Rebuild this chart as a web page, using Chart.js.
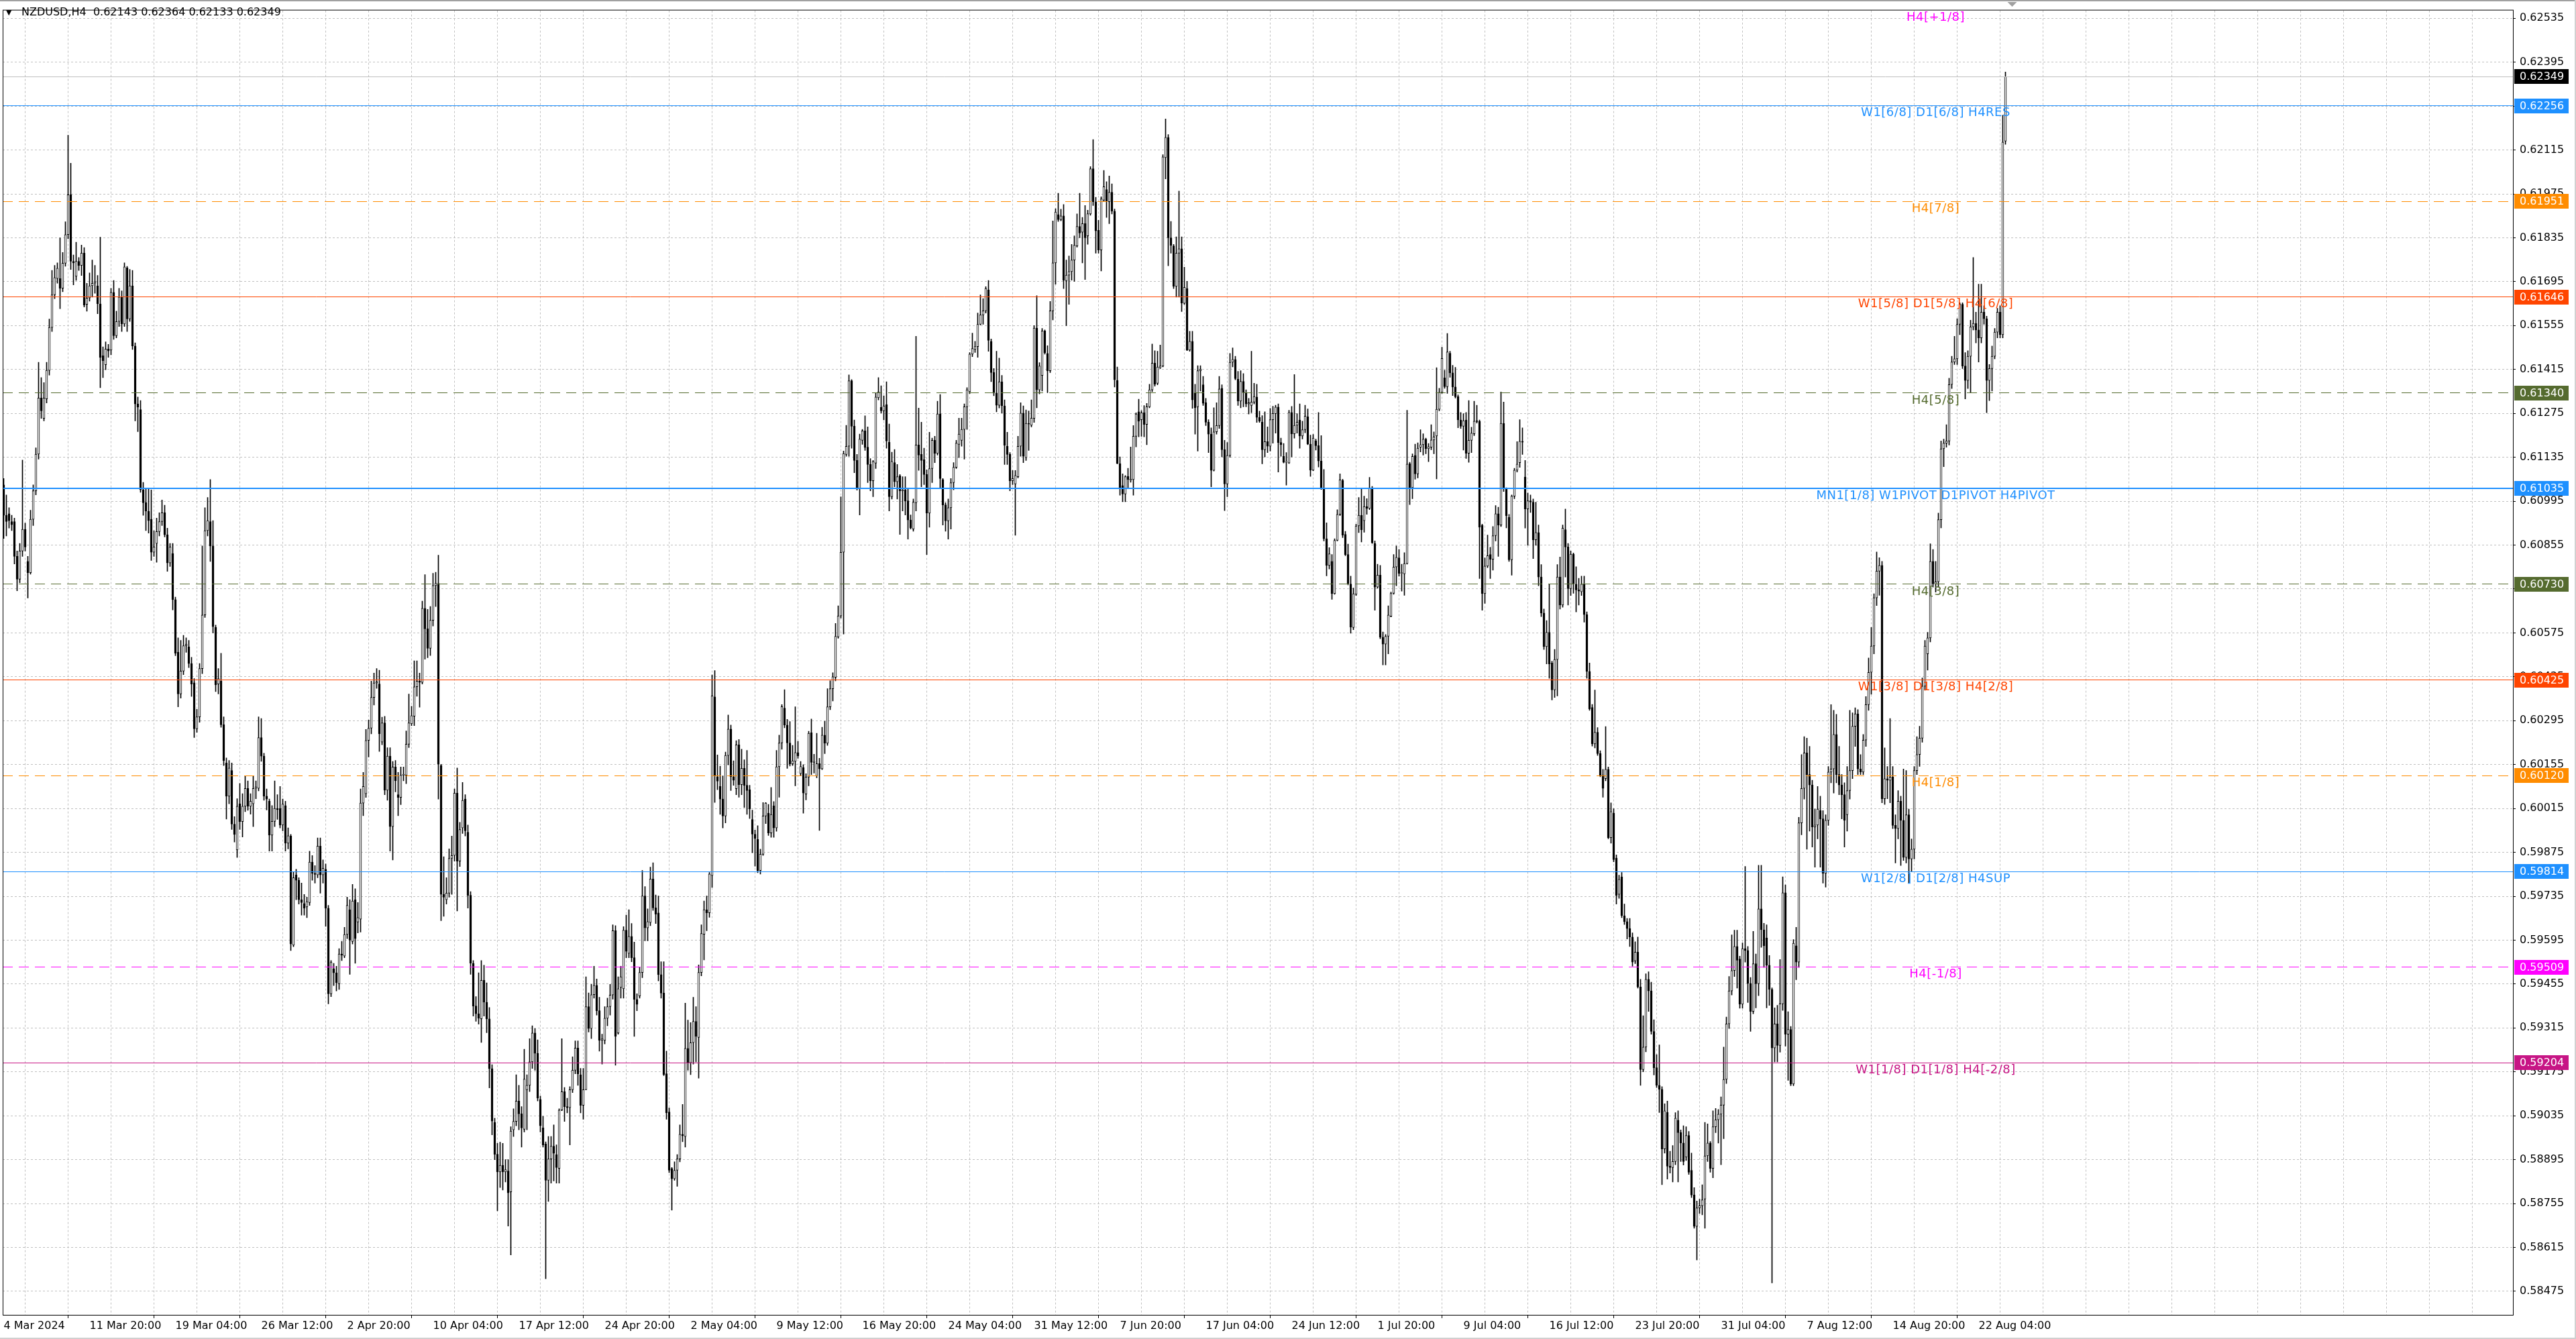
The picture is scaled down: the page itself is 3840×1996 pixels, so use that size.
<!DOCTYPE html>
<html>
<head>
<meta charset="utf-8">
<title>NZDUSD,H4</title>
<script src="https://cdn.jsdelivr.net/npm/chart.js@4.4.1/dist/chart.umd.min.js"></script>
<style>
    html, body { margin: 0; padding: 0; background: #fff; overflow: hidden; }
    #wrap { width: 3840px; height: 1996px; }
</style>
</head>
<body>
<div id="wrap"><canvas id="grafico" width="3840" height="1996"></canvas></div>
<script>
// Dados do gráfico (velas H4, da esquerda para a direita)
const symbol = 'NZDUSD';
const period = 'H4';

const opens = [
.61047,.60950,.60955,.60930,.60930,.60819,.60746,.60836,.60905,.60803,
.60767,.60937,.61028,.61145,.61324,.61259,.61321,.61412,.61549,.61653,
.61705,.61705,.61674,.61754,.61845,.61972,.61760,.61712,.61760,.61747,
.61786,.61623,.61643,.61682,.61690,.61682,.61624,.61459,.61430,.61480,
.61477,.61661,.61523,.61568,.61646,.61560,.61739,.61576,.61682,.61490,
.61305,.61287,.61031,.60990,.60963,.60937,.60832,.60860,.60898,.60930,
.60958,.60888,.60798,.60828,.60681,.60513,.60380,.60453,.60534,.60530,
.60477,.60416,.60269,.60307,.60461,.60632,.60901,.60930,.60852,.60592,
.60412,.60421,.60282,.60160,.60054,.60136,.59965,.59883,.60030,.59973,
.60022,.60079,.60022,.60030,.60079,.60079,.60241,.60182,.60054,.60038,
.59930,.59974,.60015,.60015,.59962,.60024,.59904,.59927,.59579,.59803,
.59786,.59724,.59712,.59701,.59715,.59844,.59808,.59803,.59895,.59803,
.59821,.59697,.59424,.59503,.59491,.59456,.59551,.59544,.59613,.59692,
.59591,.59724,.59653,.59662,.60032,.60062,.60232,.60271,.60369,.60415,
.60412,.60227,.60288,.60073,.60182,.59957,.60147,.60059,.60050,.60121,
.60121,.60220,.60285,.60309,.60403,.60421,.60417,.60653,.60588,.60526,
.60615,.60726,.60733,.60152,.59741,.59724,.59745,.59856,.59865,.60064,
.59847,.59953,.60045,.59939,.59738,.59521,.59385,.59360,.59344,.59467,
.59397,.59344,.59185,.59014,.58912,.58856,.58877,.58856,.58859,.58792,
.58990,.59017,.59082,.59041,.58992,.59118,.59132,.59207,.59299,.59234,
.59087,.58996,.58945,.58829,.58897,.58938,.58911,.58867,.59053,.59112,
.59064,.59061,.59118,.59180,.59251,.59166,.59068,.59118,.59383,.59313,
.59421,.59451,.59370,.59275,.59275,.59346,.59383,.59420,.59625,.59299,
.59444,.59440,.59627,.59553,.59607,.59539,.59406,.59417,.59492,.59736,
.59634,.59651,.59790,.59698,.59682,.59485,.59426,.59169,.59047,.58867,
.58834,.58861,.58897,.58976,.58969,.59250,.59204,.59268,.59336,.59285,
.59492,.59614,.59692,.59682,.59801,.60371,.60116,.60085,.60045,.59991,
.60184,.60268,.60116,.60078,.60218,.60091,.60143,.60089,.60075,.59980,
.59933,.59916,.59817,.59869,.59991,.60000,.59937,.60023,.59953,.60148,
.60224,.60335,.60281,.60224,.60157,.60165,.60193,.60126,.60145,.60061,
.60115,.60257,.60162,.60119,.60158,.60141,.60249,.60223,.60339,.60397,
.60433,.60562,.60629,.60832,.61144,.61170,.61379,.61234,.61125,.61035,
.61189,.61219,.61167,.61112,.61060,.61116,.61325,.61294,.61283,.61303,
.61183,.61009,.61118,.61057,.61076,.61028,.61031,.60996,.60935,.60906,
.60990,.61174,.61144,.61127,.61080,.60957,.61099,.61189,.61147,.61273,
.61064,.60983,.60932,.60974,.61054,.61103,.61176,.61189,.61224,.61296,
.61344,.61464,.61479,.61488,.61559,.61589,.61602,.61669,.61505,.61405,
.61340,.61301,.61376,.61299,.61170,.61144,.61060,.61050,.61073,.61170,
.61276,.61134,.61243,.61237,.61259,.61547,.61350,.61396,.61538,.61466,
.61411,.61602,.61755,.61909,.61893,.61905,.61698,.61716,.61727,.61764,
.61809,.61871,.61853,.61880,.61841,.61911,.62055,.61950,.61859,.61796,
.61955,.61989,.61950,.61980,.61920,.61380,.61115,.61045,.61018,.61074,
.61062,.61064,.61202,.61280,.61255,.61277,.61240,.61296,.61350,.61435,
.61371,.61420,.61426,.62091,.62155,.61835,.61809,.61680,.61786,.61800,
.61626,.61673,.61477,.61505,.61341,.61296,.61411,.61366,.61309,.61247,
.61209,.61093,.61216,.61236,.61355,.61159,.61050,.61141,.61438,.61447,
.61384,.61314,.61377,.61341,.61305,.61300,.61311,.61327,.61262,.61247,
.61159,.61185,.61170,.61255,.61274,.61295,.61182,.61138,.61119,.61117,
.61278,.61210,.61237,.61254,.61203,.61223,.61264,.61177,.61094,.61187,
.61172,.61123,.61035,.60875,.60790,.60803,.60700,.60870,.60953,.61061,
.60889,.60825,.60731,.60592,.60698,.60916,.60950,.60933,.60978,.60972,
.61038,.60860,.60721,.60759,.60561,.60539,.60564,.60628,.60701,.60785,
.60814,.60765,.60763,.60796,.61115,.61038,.61141,.61082,.61167,.61175,
.61193,.61162,.61167,.61190,.61203,.61288,.61342,.61388,.61360,.61467,
.61404,.61359,.61328,.61254,.61234,.61254,.61148,.61189,.61210,.61250,
.61250,.60918,.60700,.60788,.60825,.60810,.60885,.60955,.60919,.61243,
.61035,.60943,.60808,.61011,.61094,.61118,.61186,.61072,.60970,.60996,
.60992,.60872,.60895,.60753,.60638,.60531,.60577,.60479,.60393,.60490,
.60753,.60664,.60904,.60849,.60716,.60826,.60730,.60712,.60706,.60730,
.60633,.60452,.60337,.60221,.60258,.60190,.60121,.60110,.60140,.59922,
.60000,.59857,.59741,.59797,.59673,.59654,.59632,.59605,.59529,.59557,
.59446,.59182,.59254,.59470,.59433,.59304,.59188,.59132,.59119,.58929,
.59046,.58874,.58870,.58889,.59021,.58981,.58948,.58903,.58972,.58861,
.58782,.58682,.58741,.58748,.58769,.58907,.58948,.58867,.59000,.59022,
.59040,.59069,.59151,.59328,.59433,.59498,.59575,.59535,.59391,.59568,
.59562,.59457,.59368,.59520,.59456,.59695,.59628,.59602,.59515,.59438,
.59251,.59328,.59259,.59392,.59746,.59295,.59310,.59136,.59577,.59525,
.59969,.60079,.60192,.60123,.60090,.59956,.59962,.60008,.59982,.59808,
.59977,.60131,.60141,.60251,.60123,.60090,.60059,.59995,.60072,.60136,
.60277,.60317,.60141,.60131,.60233,.60346,.60449,.60533,.60687,.60772,
.60790,.60046,.60110,.60105,.60115,.59961,.59951,.60038,.59977,.59859,
.59995,.59854,.59885,.60136,.60187,.60239,.60405,.60508,.60559,.60803,
.60731,.60738,.60936,.61162,.61180,.61187,.61367,.61439,.61449,.61559,
.61623,.61426,.61380,.61457,.61551,.61562,.61541,.61516,.61598,.61577,
.61380,.61418,.61457,.61534,.61598,.61526,.62143
];

const highs = [
.61067,.61015,.60974,.60950,.60941,.60836,.60860,.61126,.60925,.60819,
.60966,.61047,.61165,.61438,.61389,.61373,.61438,.61576,.61731,.61747,
.61755,.61835,.61788,.61886,.62162,.62073,.61780,.61821,.61772,.61812,
.61804,.61690,.61723,.61764,.61747,.61715,.61837,.61487,.61503,.61495,
.61674,.61699,.61601,.61674,.61666,.61755,.61744,.61734,.61731,.61500,
.61327,.61316,.61055,.61034,.61034,.61031,.60901,.60941,.60958,.60999,
.60982,.60909,.60860,.60860,.60689,.60559,.60551,.60567,.60559,.60551,
.60497,.60429,.60331,.60477,.60852,.60974,.61007,.61064,.60933,.60600,
.60461,.60510,.60307,.60176,.60168,.60160,.59989,.60046,.60095,.60062,
.60119,.60103,.60062,.60119,.60103,.60307,.60302,.60191,.60077,.60045,
.60024,.60103,.60059,.60085,.60045,.60038,.59953,.59932,.59812,.59821,
.59794,.59777,.59741,.59732,.59879,.59865,.59833,.59921,.59921,.59851,
.59838,.59706,.59530,.59521,.59512,.59568,.59591,.59636,.59732,.59724,
.59773,.59759,.59715,.60077,.60130,.60267,.60297,.60421,.60447,.60461,
.60456,.60306,.60309,.60209,.60209,.60165,.60168,.60130,.60147,.60147,
.60262,.60380,.60341,.60486,.60486,.60447,.60676,.60761,.60650,.60659,
.60765,.60768,.60823,.60156,.59861,.59794,.59886,.59927,.60077,.60144,
.59971,.60098,.60059,.59962,.59750,.59530,.59415,.59491,.59530,.59515,
.59459,.59380,.59198,.59027,.58947,.58951,.58947,.58895,.58895,.59000,
.59057,.59166,.59132,.59064,.59247,.59166,.59281,.59322,.59313,.59277,
.59098,.59033,.58952,.58969,.58969,.59006,.58942,.59057,.59281,.59125,
.59091,.59128,.59223,.59274,.59274,.59186,.59186,.59478,.59427,.59454,
.59512,.59471,.59413,.59295,.59383,.59410,.59454,.59644,.59641,.59478,
.59512,.59638,.59675,.59692,.59648,.59589,.59424,.59508,.59817,.59766,
.59695,.59828,.59842,.59739,.59736,.59526,.59526,.59241,.59060,.58870,
.58888,.58911,.59006,.59071,.59394,.59340,.59332,.59413,.59383,.59516,
.59644,.59720,.59736,.59811,.60441,.60455,.60186,.60150,.60119,.60195,
.60313,.60281,.60167,.60231,.60235,.60204,.60170,.60200,.60089,.60010,
.59946,.59960,.59885,.60034,.60034,.60028,.60082,.60037,.60200,.60249,
.60346,.60394,.60299,.60292,.60216,.60339,.60229,.60165,.60155,.60126,
.60261,.60300,.60188,.60255,.60175,.60274,.60293,.60397,.60422,.60448,
.60605,.60661,.61009,.61155,.61237,.61398,.61383,.61254,.61144,.61209,
.61224,.61267,.61232,.61131,.61125,.61340,.61389,.61363,.61331,.61376,
.61241,.61151,.61160,.61112,.61080,.61073,.61073,.61035,.60951,.61002,
.61521,.61292,.61247,.61164,.61095,.61215,.61196,.61202,.61314,.61335,
.61067,.60990,.61002,.61067,.61118,.61189,.61260,.61260,.61305,.61357,
.61469,.61531,.61505,.61595,.61653,.61641,.61679,.61699,.61512,.61418,
.61473,.61451,.61396,.61318,.61215,.61150,.61093,.61093,.61202,.61309,
.61299,.61286,.61283,.61318,.61555,.61650,.61437,.61546,.61541,.61491,
.61632,.61889,.61928,.61977,.61926,.61941,.61764,.61777,.61814,.61841,
.61911,.61977,.61900,.61938,.61923,.62062,.62148,.61964,.61891,.61966,
.62050,.62014,.62032,.62007,.61927,.61423,.61136,.61082,.61077,.61100,
.61168,.61236,.61277,.61320,.61284,.61300,.61307,.61368,.61496,.61475,
.61473,.61493,.62100,.62214,.62164,.61887,.61814,.61838,.61984,.61838,
.61741,.61696,.61537,.61537,.61368,.61427,.61427,.61393,.61323,.61255,
.61229,.61293,.61309,.61393,.61366,.61189,.61182,.61466,.61484,.61457,
.61409,.61411,.61402,.61350,.61323,.61473,.61371,.61368,.61282,.61268,
.61280,.61232,.61291,.61298,.61301,.61305,.61196,.61179,.61150,.61285,
.61297,.61399,.61274,.61305,.61250,.61301,.61289,.61206,.61208,.61193,
.61278,.61204,.61096,.60926,.60847,.60825,.60875,.60968,.61082,.61065,
.60899,.60858,.60756,.60718,.60922,.61007,.61035,.61011,.61003,.61071,
.61042,.60868,.60794,.60790,.60578,.60570,.60661,.60705,.60825,.60852,
.60841,.60794,.60831,.61285,.61119,.61146,.61177,.61181,.61223,.61210,
.61196,.61179,.61239,.61216,.61421,.61355,.61486,.61413,.61530,.61473,
.61428,.61422,.61334,.61278,.61274,.61278,.61316,.61231,.61314,.61301,
.61254,.60922,.60814,.60887,.60848,.60914,.60981,.60976,.61343,.61311,
.61038,.60953,.61015,.61100,.61185,.61255,.61229,.61125,.61021,.61015,
.61002,.60992,.60919,.60793,.60651,.60614,.60730,.60485,.60522,.60793,
.60817,.60919,.60970,.60860,.60836,.60830,.60786,.60749,.60756,.60756,
.60642,.60479,.60347,.60393,.60273,.60199,.60140,.60276,.60147,.60033,
.60014,.59867,.59802,.59811,.59710,.59664,.59664,.59618,.59590,.59605,
.59470,.59354,.59488,.59494,.59461,.59341,.59230,.59261,.59128,.59073,
.59082,.58922,.58940,.59045,.59051,.58990,.59003,.59000,.58985,.58916,
.58806,.58763,.58769,.58815,.59014,.59009,.58953,.59051,.59058,.59055,
.59095,.59254,.59350,.59479,.59612,.59627,.59627,.59544,.59586,.59830,
.59575,.59476,.59623,.59551,.59834,.59834,.59649,.59644,.59546,.59443,
.59379,.59387,.59533,.59797,.59771,.59367,.59320,.59597,.59636,.59987,
.60187,.60244,.60239,.60213,.60105,.60013,.60085,.60054,.60008,.59995,
.60149,.60346,.60328,.60315,.60213,.60123,.60097,.60149,.60328,.60320,
.60336,.60330,.60187,.60251,.60372,.60495,.60592,.60700,.60833,.60815,
.60803,.60208,.60149,.60302,.60149,.59995,.60072,.60054,.60141,.60136,
.60013,.59918,.60149,.60244,.60277,.60431,.60551,.60577,.60859,.60841,
.60803,.60957,.61187,.61193,.61239,.61387,.61457,.61521,.61577,.61628,
.61628,.61469,.61475,.61572,.61772,.61598,.61687,.61687,.61618,.61585,
.61431,.61490,.61546,.61610,.61618,.62226,.62364
];

const lows = [
.60876,.60884,.60909,.60901,.60795,.60709,.60735,.60819,.60836,.60686,
.60762,.60917,.61015,.61129,.61259,.61251,.61308,.61397,.61536,.61641,
.61690,.61609,.61663,.61744,.61832,.61734,.61685,.61699,.61731,.61715,
.61614,.61601,.61633,.61646,.61658,.61593,.61357,.61389,.61414,.61454,
.61462,.61511,.61516,.61552,.61536,.61552,.61536,.61568,.61479,.61251,
.61217,.61023,.60950,.60901,.60893,.60806,.60819,.60800,.60884,.60917,
.60881,.60771,.60787,.60648,.60502,.60339,.60367,.60442,.60513,.60464,
.60372,.60241,.60258,.60290,.60445,.60624,.60884,.60803,.60575,.60388,
.60380,.60274,.60152,.59981,.60030,.59948,.59908,.59859,.59948,.59924,
.60005,.60009,.59997,.59957,.60046,.60071,.60165,.60041,.60010,.59879,
.59879,.59957,.59980,.59953,.59944,.59879,.59886,.59562,.59574,.59724,
.59710,.59675,.59675,.59667,.59706,.59786,.59777,.59794,.59745,.59777,
.59639,.59392,.59415,.59450,.59433,.59438,.59530,.59539,.59600,.59486,
.59583,.59521,.59618,.59621,.59992,.60050,.60179,.60253,.60345,.60398,
.60197,.60218,.60059,.60041,.59879,.59851,.60068,.59992,.60027,.60103,
.60094,.60209,.60279,.60279,.60373,.60338,.60412,.60491,.60496,.60503,
.60597,.60659,.60045,.59657,.59671,.59710,.59732,.59741,.59847,.59688,
.59830,.59935,.59927,.59697,.59486,.59353,.59336,.59327,.59269,.59353,
.59300,.59124,.58974,.58895,.58732,.58806,.58798,.58824,.58683,.58591,
.58969,.59003,.58990,.58935,.58983,.58990,.59112,.59186,.59180,.59082,
.58983,.58935,.58515,.58762,.58820,.58827,.58820,.58820,.59051,.59017,
.59044,.58942,.59109,.59169,.59132,.59044,.59024,.59118,.59302,.59281,
.59410,.59356,.59241,.59200,.59264,.59322,.59356,.59407,.59196,.59295,
.59410,.59410,.59539,.59539,.59526,.59288,.59370,.59410,.59475,.59593,
.59593,.59641,.59690,.59648,.59465,.59410,.59163,.59024,.58854,.58734,
.58829,.58810,.58888,.58952,.58935,.59180,.59166,.59200,.59207,.59155,
.59481,.59532,.59625,.59668,.59763,.60034,.60075,.59996,.59953,.59969,
.60154,.60072,.60089,.60059,.60051,.60059,.60018,.59996,.59983,.59874,
.59831,.59810,.59806,.59865,.59967,.59929,.59923,.59923,.59942,.60051,
.60204,.60272,.60143,.60150,.60152,.60087,.60175,.60119,.60000,.60042,
.60087,.60123,.60128,.60113,.59945,.60139,.60190,.60216,.60330,.60358,
.60422,.60558,.60622,.60571,.61138,.61138,.61164,.61086,.61030,.60951,
.61176,.61157,.61054,.61028,.61009,.61099,.61318,.61276,.61254,.61164,
.60964,.61002,.61041,.61002,.60889,.60964,.60951,.60874,.60906,.60899,
.60964,.61093,.61041,.61048,.60825,.60912,.61054,.61118,.61142,.61035,
.60919,.60899,.60874,.60906,.61031,.61099,.61134,.61170,.61129,.61224,
.61338,.61456,.61469,.61454,.61557,.61559,.61595,.61473,.61376,.61331,
.61280,.61292,.61276,.61112,.61112,.61028,.61048,.60886,.61069,.61138,
.61118,.61125,.61157,.61232,.61246,.61293,.61337,.61346,.61464,.61341,
.61405,.61573,.61687,.61887,.61889,.61673,.61555,.61623,.61700,.61696,
.61805,.61835,.61755,.61702,.61814,.61907,.61938,.61786,.61786,.61729,
.61950,.61900,.61880,.61911,.61359,.61114,.61014,.60993,.60993,.61036,
.61055,.61014,.61168,.61200,.61202,.61200,.61175,.61293,.61344,.61362,
.61366,.61418,.61423,.62023,.61746,.61786,.61673,.61646,.61646,.61600,
.61623,.61475,.61473,.61291,.61209,.61155,.61346,.61300,.61236,.61150,
.61041,.61091,.61209,.61227,.61136,.60965,.61009,.61135,.61423,.61382,
.61300,.61293,.61296,.61296,.61273,.61277,.61305,.61246,.61246,.61114,
.61136,.61150,.61155,.61180,.61212,.61088,.61138,.61117,.61046,.61115,
.61136,.61196,.61212,.61164,.61193,.61213,.61175,.61074,.61092,.61158,
.61104,.61032,.60868,.60757,.60779,.60682,.60698,.60868,.60949,.60879,
.60821,.60728,.60574,.60585,.60694,.60895,.60865,.60896,.60953,.60968,
.60860,.60647,.60717,.60556,.60473,.60473,.60508,.60626,.60698,.60725,
.60756,.60708,.60695,.60794,.60984,.61003,.61065,.61069,.61152,.61142,
.61146,.61121,.61159,.61146,.61066,.61283,.61339,.61355,.61339,.61390,
.61332,.61324,.61229,.61227,.61158,.61131,.61119,.61150,.61204,.61244,
.60748,.60647,.60669,.60783,.60748,.60775,.60868,.60819,.60914,.61026,
.60910,.60803,.60759,.61003,.61088,.61103,.61144,.60909,.60854,.60959,
.60812,.60854,.60725,.60627,.60522,.60476,.60430,.60361,.60369,.60374,
.60651,.60657,.60753,.60664,.60694,.60701,.60642,.60664,.60694,.60609,
.60430,.60328,.60214,.60208,.60184,.60116,.60051,.60103,.59918,.59904,
.59845,.59710,.59728,.59667,.59645,.59599,.59575,.59512,.59520,.59442,
.59132,.59175,.59239,.59368,.59295,.59165,.59125,.59045,.58815,.58916,
.58833,.58852,.58824,.58879,.58824,.58889,.58878,.58892,.58848,.58774,
.58676,.58575,.58723,.58719,.58676,.58889,.58855,.58837,.58981,.58948,
.58879,.58962,.59138,.59313,.59420,.59479,.59442,.59378,.59378,.59525,
.59396,.59304,.59360,.59379,.59418,.59572,.59508,.59379,.59387,.58502,
.59207,.59207,.59238,.59371,.59257,.59148,.59131,.59131,.59469,.59508,
.59931,.60045,.59885,.59943,.59892,.59828,.59918,.59828,.59777,.59764,
.59961,.60097,.60064,.60097,.60059,.59982,.59892,.59943,.60045,.60110,
.60213,.60123,.60123,.60123,.60213,.60328,.60379,.60508,.60662,.60695,
.60033,.60028,.60046,.60033,.59951,.59841,.59918,.59833,.59849,.59841,
.59777,.59815,.59854,.60123,.60149,.60226,.60392,.60456,.60546,.60721,
.60705,.60721,.60910,.61105,.61167,.61174,.61354,.61431,.61431,.61526,
.61418,.61321,.61354,.61341,.61541,.61500,.61439,.61500,.61559,.61277,
.61316,.61346,.61449,.61516,.61516,.61516,.62133
];

const closes = [
.60950,.60930,.60933,.60920,.60819,.60746,.60836,.60905,.60849,.60767,
.60937,.61028,.61145,.61324,.61283,.61324,.61412,.61549,.61653,.61708,
.61738,.61674,.61754,.61845,.61972,.61760,.61755,.61760,.61747,.61786,
.61620,.61643,.61682,.61690,.61695,.61625,.61454,.61443,.61480,.61474,
.61661,.61523,.61568,.61646,.61560,.61742,.61576,.61682,.61490,.61305,
.61295,.61031,.60990,.60963,.60933,.60832,.60849,.60898,.60930,.60958,
.60888,.60798,.60849,.60681,.60510,.60380,.60453,.60534,.60539,.60477,
.60412,.60269,.60307,.60461,.60632,.60901,.60933,.60852,.60595,.60409,
.60429,.60282,.60168,.60054,.60144,.59965,.59932,.60022,.59973,.60022,
.60079,.60022,.60038,.60079,.60084,.60241,.60182,.60054,.60045,.59930,
.59974,.60015,.60011,.59962,.60029,.59904,.59928,.59583,.59794,.59786,
.59724,.59715,.59697,.59718,.59844,.59808,.59805,.59895,.59803,.59824,
.59697,.59424,.59524,.59491,.59459,.59551,.59547,.59613,.59706,.59595,
.59720,.59600,.59667,.60032,.60085,.60232,.60271,.60369,.60415,.60419,
.60253,.60288,.60073,.60182,.59957,.60147,.60103,.60050,.60121,.60124,
.60220,.60288,.60311,.60403,.60421,.60417,.60653,.60588,.60526,.60615,
.60726,.60733,.60156,.59741,.59732,.59745,.59856,.59865,.60064,.59847,
.59948,.60041,.59944,.59738,.59521,.59385,.59360,.59346,.59467,.59397,
.59344,.59185,.59018,.58912,.58856,.58877,.58856,.58863,.58789,.58986,
.59017,.59082,.59041,.58996,.59152,.59132,.59207,.59299,.59234,.59091,
.59003,.58942,.58829,.58897,.58938,.58915,.58870,.59053,.59112,.59064,
.59061,.59118,.59180,.59251,.59169,.59068,.59118,.59383,.59313,.59421,
.59451,.59370,.59275,.59280,.59346,.59383,.59420,.59625,.59288,.59440,
.59478,.59627,.59559,.59607,.59539,.59406,.59390,.59492,.59736,.59634,
.59654,.59790,.59698,.59678,.59485,.59426,.59166,.59044,.58861,.58834,
.58861,.58897,.58976,.58971,.59250,.59204,.59268,.59336,.59288,.59492,
.59616,.59692,.59682,.59806,.60374,.60119,.60102,.60045,.59991,.60184,
.60268,.60116,.60105,.60218,.60091,.60143,.60089,.60072,.60014,.59933,
.59919,.59817,.59869,.59991,.60032,.59937,.59996,.59953,.60148,.60224,
.60340,.60281,.60224,.60157,.60167,.60193,.60183,.60149,.60064,.60115,
.60255,.60162,.60165,.60158,.60141,.60249,.60223,.60339,.60397,.60435,
.60564,.60629,.60832,.61147,.61170,.61379,.61234,.61125,.61035,.61193,
.61219,.61166,.61112,.61060,.61121,.61327,.61344,.61283,.61299,.61187,
.61009,.61122,.61057,.61073,.61028,.61031,.60996,.60935,.60910,.60992,
.61174,.61142,.61125,.61080,.60957,.61099,.61189,.61147,.61273,.61067,
.60983,.60932,.60974,.61054,.61103,.61180,.61209,.61224,.61296,.61350,
.61464,.61482,.61488,.61559,.61589,.61602,.61673,.61508,.61405,.61340,
.61301,.61376,.61299,.61173,.61144,.61060,.61067,.61077,.61170,.61276,
.61138,.61243,.61241,.61260,.61547,.61350,.61426,.61538,.61468,.61411,
.61602,.61755,.61917,.61893,.61905,.61700,.61716,.61727,.61764,.61811,
.61871,.61850,.61880,.61835,.61912,.62055,.61950,.61857,.61796,.61959,
.61998,.61950,.61980,.61920,.61382,.61115,.61036,.61018,.61073,.61064,
.61065,.61202,.61273,.61250,.61277,.61240,.61296,.61350,.61435,.61368,
.61423,.61426,.62093,.62155,.61835,.61811,.61680,.61786,.61800,.61627,
.61677,.61477,.61505,.61318,.61293,.61411,.61416,.61307,.61247,.61209,
.61093,.61216,.61236,.61353,.61159,.61050,.61141,.61438,.61447,.61386,
.61314,.61377,.61341,.61305,.61309,.61311,.61329,.61262,.61250,.61159,
.61185,.61170,.61255,.61275,.61295,.61182,.61175,.61119,.61121,.61278,
.61210,.61237,.61247,.61203,.61223,.61266,.61177,.61094,.61196,.61172,
.61123,.61035,.60875,.60790,.60827,.60700,.60870,.60953,.61063,.60887,
.60825,.60731,.60593,.60700,.60916,.60950,.60904,.60978,.60972,.61038,
.60862,.60721,.60759,.60561,.60539,.60564,.60632,.60701,.60785,.60816,
.60765,.60767,.60796,.61113,.61038,.61138,.61082,.61164,.61175,.61193,
.61162,.61169,.61190,.61200,.61288,.61342,.61450,.61360,.61471,.61404,
.61359,.61328,.61254,.61234,.61252,.61148,.61189,.61212,.61250,.61249,
.60912,.60700,.60788,.60821,.60810,.60885,.60955,.60919,.61243,.61035,
.60949,.60808,.61011,.61094,.61113,.61186,.61183,.60970,.60996,.60992,
.60872,.60895,.60753,.60638,.60531,.60577,.60476,.60393,.60490,.60753,
.60664,.60909,.60849,.60716,.60826,.60730,.60712,.60708,.60730,.60633,
.60452,.60332,.60221,.60258,.60190,.60121,.60079,.60140,.59922,.60005,
.59852,.59738,.59789,.59673,.59654,.59632,.59605,.59525,.59557,.59446,
.59182,.59254,.59470,.59433,.59304,.59188,.59132,.59119,.58929,.59051,
.58874,.58870,.58889,.59027,.58981,.58948,.58889,.58972,.58855,.58782,
.58682,.58741,.58748,.58767,.58907,.58948,.58867,.59000,.59022,.59040,
.59069,.59151,.59328,.59433,.59498,.59575,.59531,.59391,.59568,.59562,
.59457,.59368,.59520,.59456,.59695,.59628,.59577,.59515,.59438,.59251,
.59328,.59259,.59392,.59746,.59295,.59310,.59136,.59585,.59525,.59969,
.60079,.60192,.60123,.60090,.59956,.59962,.60013,.59982,.59808,.59977,
.60131,.60141,.60251,.60123,.60090,.60059,.59977,.60072,.60136,.60277,
.60317,.60141,.60131,.60233,.60346,.60449,.60533,.60687,.60772,.60790,
.60046,.60110,.60105,.60115,.59961,.59951,.60038,.59977,.59859,.59995,
.59854,.59885,.60136,.60187,.60239,.60405,.60533,.60559,.60803,.60731,
.60738,.60936,.61162,.61180,.61187,.61367,.61439,.61449,.61559,.61623,
.61426,.61380,.61457,.61551,.61562,.61541,.61516,.61598,.61577,.61380,
.61418,.61457,.61534,.61598,.61526,.62140,.62349
];

// Rótulos de tempo (um a cada 32 velas)
const timeLabels = [
    '4 Mar 2024', '11 Mar 20:00', '19 Mar 04:00', '26 Mar 12:00', '2 Apr 20:00', '10 Apr 04:00',
    '17 Apr 12:00', '24 Apr 20:00', '2 May 04:00', '9 May 12:00', '16 May 20:00', '24 May 04:00',
    '31 May 12:00', '7 Jun 20:00', '17 Jun 04:00', '24 Jun 12:00', '1 Jul 20:00', '9 Jul 04:00',
    '16 Jul 12:00', '23 Jul 20:00', '31 Jul 04:00', '7 Aug 12:00', '14 Aug 20:00', '22 Aug 04:00'
];

// Escala de preços (eixo da direita)
const priceTicks = [
    0.62535, 0.62395, 0.62255, 0.62115, 0.61975, 0.61835, 0.61695, 0.61555, 0.61415, 0.61275,
    0.61135, 0.60995, 0.60855, 0.60715, 0.60575, 0.60435, 0.60295, 0.60155, 0.60015, 0.59875,
    0.59735, 0.59595, 0.59455, 0.59315, 0.59175, 0.59035, 0.58895, 0.58755, 0.58615, 0.58475
];

// Níveis de Murrey
const levelValues = [0.62561, 0.62256, 0.61951, 0.61646, 0.61340, 0.61035, 0.60730, 0.60425, 0.60120, 0.59814, 0.59509, 0.59204];
const levelNames = [
    'H4[+1/8]',
    'W1[6/8] D1[6/8] H4RES',
    'H4[7/8]',
    'W1[5/8] D1[5/8] H4[6/8]',
    'H4[5/8]',
    'MN1[1/8] W1PIVOT D1PIVOT H4PIVOT',
    'H4[3/8]',
    'W1[3/8] D1[3/8] H4[2/8]',
    'H4[1/8]',
    'W1[2/8] D1[2/8] H4SUP',
    'H4[-1/8]',
    'W1[1/8] D1[1/8] H4[-2/8]'
];

// Estilo de cada nível (cor, tracejado, espessura)
const DASH = [15, 9];
const levelStyles = [
    { color: '#FF00FF', dash: DASH, width: 1, line: false },
    { color: '#1E90FF', dash: [], width: 1, line: true },
    { color: '#FF8C00', dash: DASH, width: 1, line: true },
    { color: '#FF4500', dash: [], width: 1, line: true },
    { color: '#556B2F', dash: DASH, width: 1, line: true },
    { color: '#1E90FF', dash: [], width: 2, line: true },
    { color: '#556B2F', dash: DASH, width: 1, line: true },
    { color: '#FF4500', dash: [], width: 1, line: true },
    { color: '#FF8C00', dash: DASH, width: 1, line: true },
    { color: '#1E90FF', dash: [], width: 1, line: true },
    { color: '#FF00FF', dash: DASH, width: 1, line: true },
    { color: '#C71585', dash: [], width: 1, line: true }
];

const X_MIN = -0.375;
const X_MAX = 935.125;
const FONT = '"DejaVu Sans", sans-serif';

Chart.defaults.font.family = FONT;
Chart.defaults.font.size = 16;
Chart.defaults.color = '#000';

function buildCandles() {
    const wicks = closes.map((c, i) => ({ x: i, y: [lows[i], highs[i]] }));
    const bodies = closes.map((c, i) => ({ x: i, y: [Math.min(opens[i], c), Math.max(opens[i], c)] }));
    const colors = closes.map((c, i) => (c >= opens[i] ? '#FFFFFF' : '#000000'));
    return { wicks, bodies, colors };
}

function buildLevelDatasets() {
    const sets = [];
    levelValues.forEach((v, i) => {
        const st = levelStyles[i];
        if (!st.line) return;
        sets.push({
            type: 'line',
            data: [{ x: X_MIN, y: v }, { x: X_MAX, y: v }],
            borderColor: st.color,
            borderWidth: st.width,
            borderDash: st.dash,
            pointRadius: 0,
            fill: false,
            order: 0
        });
    });
    // Linha do preço atual
    sets.push({
        type: 'line',
        data: [{ x: X_MIN, y: closes[closes.length - 1] }, { x: X_MAX, y: closes[closes.length - 1] }],
        borderColor: '#C0C0C0',
        borderWidth: 1,
        pointRadius: 0,
        fill: false,
        order: 0
    });
    return sets;
}

// Alinha as linhas horizontais ao pixel para ficarem nítidas
const crispLinesPlugin = {
    id: 'crispLines',
    beforeDatasetDraw(chart, args) {
        const ds = chart.data.datasets[args.index];
        if (ds.type !== 'line') return;
        const y = chart.scales.y.getPixelForValue(ds.data[0].y);
        const target = ds.borderWidth % 2 === 1 ? Math.floor(y) + 0.5 : Math.round(y);
        chart.ctx.save();
        chart.ctx.translate(0, target - y);
    },
    afterDatasetDraw(chart, args) {
        const ds = chart.data.datasets[args.index];
        if (ds.type !== 'line') return;
        chart.ctx.restore();
    }
};

// Textos, caixas de preço e moldura desenhados por cima
const overlayPlugin = {
    id: 'overlay',
    beforeDraw(chart) {
        const ctx = chart.ctx;
        ctx.save();
        ctx.fillStyle = '#FFFFFF';
        ctx.fillRect(0, 0, chart.width, chart.height);
        ctx.restore();
    },
    afterDraw(chart) {
        const ctx = chart.ctx;
        const area = chart.chartArea;
        const xs = chart.scales.x;
        const ys = chart.scales.y;
        ctx.save();

        // rótulos dos níveis
        ctx.font = '18px ' + FONT;
        ctx.letterSpacing = '0.5px';
        ctx.textAlign = 'center';
        ctx.textBaseline = 'middle';
        const labelX = xs.getPixelForValue(720);
        levelValues.forEach((v, i) => {
            ctx.fillStyle = levelStyles[i].color;
            ctx.fillText(levelNames[i], labelX, ys.getPixelForValue(v) + 11);
        });
        ctx.letterSpacing = '0px';

        // caixas de preço no eixo
        ctx.font = '16px ' + FONT;
        ctx.textAlign = 'left';
        const drawBox = (value, color) => {
            const y = Math.round(ys.getPixelForValue(value));
            ctx.fillStyle = color;
            ctx.fillRect(area.right + 2, y - 11, 81, 22);
            ctx.fillStyle = '#FFFFFF';
            ctx.fillText(value.toFixed(5), area.right + 10, y + 1);
        };
        levelValues.forEach((v, i) => {
            if (levelStyles[i].line) drawBox(v, levelStyles[i].color);
        });
        drawBox(closes[closes.length - 1], '#000000');

        // moldura da área do gráfico
        ctx.strokeStyle = '#000000';
        ctx.lineWidth = 1;
        ctx.setLineDash([]);
        ctx.strokeRect(area.left + 0.5, area.top - 0.5, area.right - area.left, area.bottom - area.top + 1);

        // marcador de deslocamento no topo
        const sx = xs.getPixelForValue(748.5);
        ctx.fillStyle = '#A0A0A0';
        ctx.beginPath();
        ctx.moveTo(sx - 7, 3);
        ctx.lineTo(sx + 7, 3);
        ctx.lineTo(sx, 10);
        ctx.closePath();
        ctx.fill();

        // borda da janela
        ctx.fillStyle = '#A0A0A0';
        ctx.fillRect(0, 0, chart.width, 2);
        ctx.fillStyle = '#D0D0D0';
        ctx.fillRect(chart.width - 2, 0, 2, chart.height);
        ctx.fillRect(0, chart.height - 2, chart.width, 2);

        // título
        const last = closes.length - 1;
        ctx.fillStyle = '#000000';
        ctx.font = '11px ' + FONT;
        ctx.textBaseline = 'middle';
        ctx.fillText('\u25BC', 9, 19);
        ctx.font = '16px ' + FONT;
        const title = symbol + ',' + period + '  ' + opens[last].toFixed(5) + ' ' + highs[last].toFixed(5) + ' ' +
            lows[last].toFixed(5) + ' ' + closes[last].toFixed(5);
        ctx.fillText(title, 32, 19);

        ctx.restore();
    }
};

function renderChart() {
    const candles = buildCandles();
    const gridIdx = [];
    for (let v = 0; v <= X_MAX; v += 16) gridIdx.push(v);

    const ctx = document.getElementById('grafico').getContext('2d');
    window.priceChart = new Chart(ctx, {
        type: 'bar',
        data: {
            datasets: [
                ...buildLevelDatasets(),
                {
                    type: 'bar',
                    data: candles.bodies,
                    backgroundColor: candles.colors,
                    borderColor: '#000000',
                    borderWidth: 1,
                    borderSkipped: false,
                    barThickness: 3,
                    minBarLength: 1,
                    grouped: false,
                    order: 1
                },
                {
                    type: 'bar',
                    data: candles.wicks,
                    backgroundColor: '#000000',
                    borderWidth: 0,
                    barThickness: 1,
                    grouped: false,
                    order: 2
                }
            ]
        },
        options: {
            responsive: false,
            animation: false,
            devicePixelRatio: 1,
            events: [],
            layout: { padding: { left: 4, top: 5, right: 0, bottom: 0 } },
            plugins: {
                legend: { display: false },
                tooltip: { enabled: false },
                title: { display: false }
            },
            scales: {
                x: {
                    type: 'linear',
                    min: X_MIN,
                    max: X_MAX,
                    offset: false,
                    afterBuildTicks: s => { s.ticks = gridIdx.map(v => ({ value: v })); },
                    afterFit: s => { s.height = 36; },
                    ticks: {
                        autoSkip: false,
                        maxRotation: 0,
                        minRotation: 0,
                        align: 'start',
                        padding: 2,
                        color: '#000',
                        font: { size: 16 },
                        callback: function(value) {
                            const k = value / 32;
                            return (value % 32 === 0 && k < timeLabels.length) ? timeLabels[k] : '';
                        }
                    },
                    grid: {
                        color: '#C0C0C0',
                        lineWidth: 1,
                        drawTicks: true,
                        tickLength: 5,
                        tickWidth: 1,
                        tickBorderDash: [],
                        tickColor: c => (c.tick && c.tick.value % 32 === 0 && c.tick.value / 32 < timeLabels.length) ? '#000' : 'rgba(0,0,0,0)'
                    },
                    border: { display: false, dash: [3, 3] }
                },
                y: {
                    type: 'linear',
                    position: 'right',
                    min: 0.58400,
                    max: 0.62560,
                    afterBuildTicks: s => { s.ticks = priceTicks.map(v => ({ value: v })); },
                    afterFit: s => { s.width = 94; },
                    ticks: {
                        autoSkip: false,
                        padding: 6,
                        color: '#000',
                        font: { size: 16 },
                        callback: value => value.toFixed(5)
                    },
                    grid: {
                        color: '#C0C0C0',
                        lineWidth: 1,
                        tickLength: 4,
                        tickWidth: 1,
                        tickBorderDash: [],
                        tickColor: '#000'
                    },
                    border: { display: false, dash: [3, 3] }
                }
            }
        },
        plugins: [crispLinesPlugin, overlayPlugin]
    });
}

renderChart();
</script>
</body>
</html>
